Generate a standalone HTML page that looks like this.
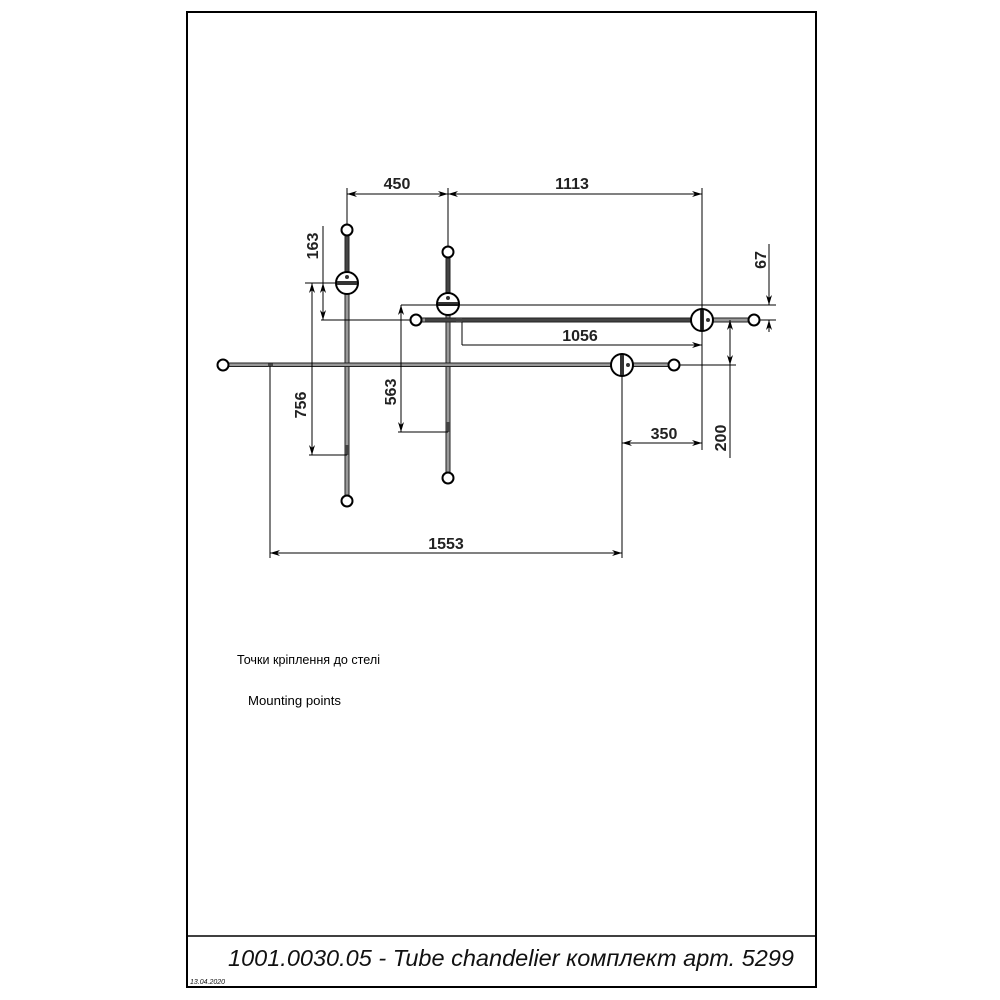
<!DOCTYPE html>
<html><head><meta charset="utf-8"><style>
html,body{margin:0;padding:0;background:#fff;}
svg{display:block;}
</style></head><body>
<svg width="1000" height="1000" viewBox="0 0 1000 1000" xmlns="http://www.w3.org/2000/svg">
<defs>
<marker id="a" viewBox="0 0 10 6" refX="10" refY="3" markerWidth="10" markerHeight="6" orient="auto-start-reverse" markerUnits="userSpaceOnUse">
<path d="M0,0 L10,3 L0,6 L3,3 Z" fill="#000"/>
</marker>
</defs>
<rect x="0" y="0" width="1000" height="1000" fill="#fff"/>
<rect x="187" y="12" width="629" height="975" fill="none" stroke="#000" stroke-width="2"/>
<line x1="187" y1="936" x2="816" y2="936" stroke="#000" stroke-width="1.5"/>
<text x="511" y="966" font-family="Liberation Sans, sans-serif" font-style="italic" font-size="23" text-anchor="middle" textLength="566" lengthAdjust="spacingAndGlyphs" fill="#111">1001.0030.05 - Tube chandelier комплект арт. 5299</text>
<text x="190" y="984" font-family="Liberation Sans, sans-serif" font-style="italic" font-size="7" fill="#111">13.04.2020</text>

<g font-family="Liberation Sans, sans-serif" font-weight="bold" font-size="16" fill="#222">
<text x="397" y="189" text-anchor="middle">450</text>
<text x="572" y="189" text-anchor="middle">1113</text>
<text x="580" y="341" text-anchor="middle">1056</text>
<text x="446" y="549" text-anchor="middle">1553</text>
<text x="664" y="439" text-anchor="middle">350</text>
<text transform="translate(318,246) rotate(-90)" text-anchor="middle">163</text>
<text transform="translate(306,405) rotate(-90)" text-anchor="middle">756</text>
<text transform="translate(396,392) rotate(-90)" text-anchor="middle">563</text>
<text transform="translate(766,260) rotate(-90)" text-anchor="middle">67</text>
<text transform="translate(726,438) rotate(-90)" text-anchor="middle">200</text>
</g>

<g fill="#999" stroke="#222" stroke-width="1">
<rect x="345" y="231" width="4" height="269"/>
<rect x="446" y="251" width="4" height="227"/>
<rect x="416" y="318" width="337" height="4"/>
<rect x="223" y="363" width="451" height="3.5"/>
</g>
<g fill="#444">
<rect x="345.5" y="236" width="3" height="40"/>
<rect x="446.5" y="256" width="3" height="40"/>
<rect x="425" y="318.5" width="270" height="3"/>
<rect x="268" y="363.5" width="5" height="3"/>
<rect x="345" y="445" width="4" height="10"/>
<rect x="446" y="422" width="4" height="10"/>
<rect x="456" y="318" width="6" height="4"/>
</g>

<g fill="#fff" stroke="#000" stroke-width="2">
<circle cx="347" cy="230" r="5.5"/>
<circle cx="347" cy="501" r="5.5"/>
<circle cx="448" cy="252" r="5.5"/>
<circle cx="448" cy="478" r="5.5"/>
<circle cx="416" cy="320" r="5.5"/>
<circle cx="754" cy="320" r="5.5"/>
<circle cx="223" cy="365" r="5.5"/>
<circle cx="674" cy="365" r="5.5"/>
</g>

<g stroke="#000" stroke-width="2" fill="#fff">
<circle cx="347" cy="283" r="11"/>
<circle cx="448" cy="304" r="11"/>
<circle cx="702" cy="320" r="11"/>
<circle cx="622" cy="365" r="11"/>
</g>
<g fill="#333">
<rect x="337" y="281" width="20" height="4"/>
<rect x="438" y="302" width="20" height="4"/>
<rect x="700" y="310" width="4" height="20"/>
<rect x="620" y="355" width="4" height="20"/>
<circle cx="347" cy="277" r="2"/>
<circle cx="448" cy="298" r="2"/>
<circle cx="708" cy="320" r="2"/>
<circle cx="628" cy="365" r="2"/>
</g>

<g stroke="#000" stroke-width="1" fill="none">
<line x1="347" y1="188" x2="347" y2="225"/>
<line x1="448" y1="188" x2="448" y2="246"/>
<line x1="702" y1="188" x2="702" y2="450"/>
<line x1="305" y1="283" x2="336" y2="283"/>
<line x1="321" y1="320" x2="410" y2="320"/>
<line x1="401" y1="305" x2="776" y2="305"/>
<line x1="759" y1="320" x2="776" y2="320"/>
<line x1="309" y1="455" x2="347" y2="455"/>
<line x1="398" y1="432" x2="448" y2="432"/>
<line x1="462" y1="322" x2="462" y2="345"/>
<line x1="680" y1="365" x2="736" y2="365"/>
<line x1="622" y1="376" x2="622" y2="558"/>
<line x1="270" y1="366" x2="270" y2="558"/>
</g>

<g stroke="#000" stroke-width="1" fill="none">
<line x1="347" y1="194" x2="448" y2="194" marker-start="url(#a)" marker-end="url(#a)"/>
<line x1="448" y1="194" x2="702" y2="194" marker-start="url(#a)" marker-end="url(#a)"/>
<line x1="462" y1="345" x2="702" y2="345" marker-end="url(#a)"/>
<line x1="622" y1="443" x2="702" y2="443" marker-start="url(#a)" marker-end="url(#a)"/>
<line x1="270" y1="553" x2="622" y2="553" marker-start="url(#a)" marker-end="url(#a)"/>
<line x1="323" y1="226" x2="323" y2="283" />
<line x1="323" y1="283" x2="323" y2="320" marker-start="url(#a)" marker-end="url(#a)"/>
<line x1="312" y1="283" x2="312" y2="455" marker-start="url(#a)" marker-end="url(#a)"/>
<line x1="401" y1="305" x2="401" y2="432" marker-start="url(#a)" marker-end="url(#a)"/>
<line x1="769" y1="244" x2="769" y2="305" marker-end="url(#a)"/>
<line x1="769" y1="332" x2="769" y2="320" marker-end="url(#a)"/>
<line x1="730" y1="320" x2="730" y2="365" marker-start="url(#a)" marker-end="url(#a)"/>
<line x1="730" y1="365" x2="730" y2="458"/>
</g>

<g font-family="Liberation Sans, 'DejaVu Sans', sans-serif" font-size="12.5" fill="#000">
<text x="237" y="664" textLength="143" lengthAdjust="spacingAndGlyphs">Точки кріплення до стелі</text>
<text x="248" y="705" textLength="93" lengthAdjust="spacingAndGlyphs">Mounting points</text>
</g>
</svg>
</body></html>
